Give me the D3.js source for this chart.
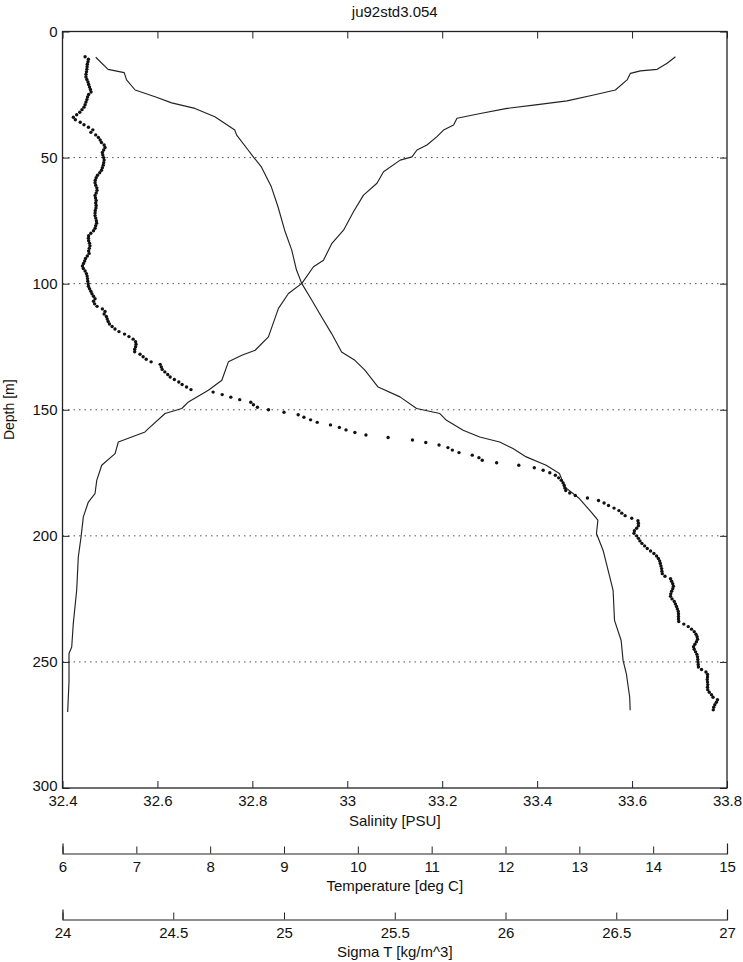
<!DOCTYPE html>
<html>
<head>
<meta charset="utf-8">
<script src="https://cdn.jsdelivr.net/npm/d3@7"></script>
<style>
  body { margin: 0; background: #fff; }
  svg { display: block; font-family: "Liberation Sans", Arial, Helvetica, sans-serif; }
</style>
</head>
<body>
<svg id="chart" width="743" height="962"></svg>
<script>
// CTD cast ju92std3.054 — salinity, temperature and sigma-T against depth

const chartTitle = "ju92std3.054";

// axis ticks
const depthTicks = [0, 50, 100, 150, 200, 250, 300];
const salinityTicks = [32.4, 32.6, 32.8, 33, 33.2, 33.4, 33.6, 33.8];
const temperatureTicks = [6, 7, 8, 9, 10, 11, 12, 13, 14, 15];
const sigmaTicks = [24, 24.5, 25, 25.5, 26, 26.5, 27];

// salinity profile [PSU]
const salinityDepth = [10.2, 15, 16.3, 19.2, 23.2, 25.9, 28.3, 30.5, 33.8, 39.1, 41.1, 47, 49.7, 53.7, 61.6, 69.5, 78.8, 86.7, 94.6, 99.9,
  106.5, 113.2, 119.8, 127.1, 130.4, 134.3, 141, 144.9, 149.5, 151.5, 154.2, 158.1, 160.8, 162.8, 165.4, 168.7, 172, 175.3, 180.6,
  185.2, 190.6, 193.8, 199.1, 205.8, 216.3, 221.6, 233.5, 241.5, 249.4, 254.7, 264, 269.2];
const salinity = [32.470, 32.496, 32.530, 32.535, 32.553, 32.595, 32.630, 32.679, 32.721, 32.763, 32.767, 32.791, 32.802, 32.819, 32.840,
  32.854, 32.868, 32.883, 32.893, 32.904, 32.925, 32.946, 32.967, 32.988, 33.016, 33.037, 33.065, 33.111, 33.146, 33.195, 33.209,
  33.244, 33.279, 33.321, 33.349, 33.377, 33.419, 33.447, 33.458, 33.489, 33.514, 33.528, 33.525, 33.539, 33.553, 33.560, 33.563,
  33.577, 33.581, 33.588, 33.595, 33.596];

// temperature profile [deg C]
const temperatureDepth = [10, 12.6, 15, 15.6, 16.6, 19.2, 23.2, 25.2, 27.5, 29.2, 30.5, 32.5, 34.4, 37.1, 39.1, 41.7, 45, 47, 49.7, 51,
  55.6, 60.2, 64.9, 71.5, 78.8, 84, 90.7, 93.3, 99.9, 103.9, 109.8, 121.1, 126.4, 128.4, 131, 138.3, 142.3, 146.9, 149.5, 151.5,
  157.5, 158.8, 162.8, 167.4, 172, 178, 183.3, 186.6, 192.5, 200.5, 208.4, 221.6, 234.8, 244.1, 246.7, 258, 269.9];
const temperature = [14.302, 14.189, 14.054, 13.827, 13.692, 13.647, 13.488, 13.194, 12.834, 12.381, 12.021, 11.659, 11.343, 11.297,
  11.161, 11.072, 10.936, 10.801, 10.733, 10.574, 10.348, 10.259, 10.077, 9.941, 9.806, 9.649, 9.535, 9.399, 9.242, 9.060, 8.925,
  8.789, 8.609, 8.429, 8.247, 8.158, 7.976, 7.705, 7.616, 7.389, 7.163, 7.118, 6.756, 6.712, 6.531, 6.464, 6.440, 6.350, 6.282,
  6.251, 6.214, 6.192, 6.146, 6.125, 6.088, 6.088, 6.070];

// sigma-T [kg/m^3], one sample per metre starting at 10 m
const sigmaStartDepth = 10;
const sigmaT = [
  24.102, 24.117, 24.115, 24.112, 24.111, 24.110, 24.108, 24.106, 24.106, 24.110,
  24.115, 24.118, 24.122, 24.126, 24.129, 24.118, 24.113, 24.110, 24.106, 24.102,
  24.097, 24.088, 24.078, 24.064, 24.049, 24.058, 24.080, 24.097, 24.117, 24.137,
  24.128, 24.150, 24.162, 24.170, 24.176, 24.188, 24.192, 24.186, 24.180, 24.182,
  24.186, 24.188, 24.186, 24.184, 24.180, 24.176, 24.168, 24.158, 24.152, 24.148,
  24.147, 24.150, 24.155, 24.156, 24.152, 24.147, 24.149, 24.152, 24.150, 24.152,
  24.151, 24.148, 24.147, 24.147, 24.150, 24.153, 24.154, 24.150, 24.147, 24.140,
  24.128, 24.118, 24.117, 24.118, 24.122, 24.124, 24.121, 24.118, 24.120, 24.112,
  24.104, 24.100, 24.095, 24.090, 24.094, 24.102, 24.108, 24.111, 24.113, 24.114,
  24.116, 24.117, 24.122, 24.128, 24.133, 24.140, 24.147, 24.140, 24.145, 24.156,
  24.180, 24.192, 24.188, 24.198, 24.202, 24.206, 24.212, 24.224, 24.237, 24.255,
  24.280, 24.300, 24.319, 24.330, 24.332, 24.330, 24.326, 24.326, 24.350, 24.364,
  24.378, 24.400, 24.441, 24.446, 24.450, 24.462, 24.475, 24.486, 24.505, 24.525,
  24.540, 24.560, 24.580, 24.680, 24.721, 24.760, 24.800, 24.850, 24.862, 24.880,
  24.930, 25.000, 25.064, 25.090, 25.120, 25.150, 25.210, 25.250, 25.280, 25.320,
  25.370, 25.470, 25.580, 25.640, 25.700, 25.740, 25.760, 25.790, 25.850, 25.880,
  25.895, 25.960, 26.060, 26.130, 26.170, 26.200, 26.225, 26.240, 26.252, 26.260,
  26.265, 26.268, 26.272, 26.290, 26.315, 26.370, 26.420, 26.445, 26.465, 26.490,
  26.512, 26.525, 26.540, 26.570, 26.598, 26.600, 26.600, 26.592, 26.582, 26.580,
  26.592, 26.600, 26.607, 26.616, 26.628, 26.640, 26.655, 26.670, 26.682, 26.690,
  26.696, 26.699, 26.702, 26.705, 26.706, 26.708, 26.720, 26.745, 26.750, 26.755,
  26.758, 26.755, 26.750, 26.746, 26.745, 26.752, 26.762, 26.767, 26.772, 26.776,
  26.780, 26.781, 26.781, 26.781, 26.782, 26.805, 26.825, 26.840, 26.852, 26.860,
  26.865, 26.867, 26.862, 26.855, 26.849, 26.852, 26.858, 26.864, 26.867, 26.868,
  26.869, 26.870, 26.871, 26.885, 26.905, 26.912, 26.912, 26.911, 26.912, 26.913,
  26.912, 26.913, 26.920, 26.930, 26.937, 26.957, 26.952, 26.945, 26.940, 26.938
];

// ---- layout ----
const plot = { left: 62.5, right: 727, top: 31.5, bottom: 788 };
const tempAxisY = 853.5;
const sigmaAxisY = 919.5;
const ink = "#222";
const tickFont = 15;

const svg = d3.select("#chart");

const y = d3.scaleLinear().domain([0, 300]).range([plot.top, plot.bottom]);
const xSal = d3.scaleLinear().domain([32.4, 33.8]).range([plot.left, plot.right]);
const xTemp = d3.scaleLinear().domain([6, 15]).range([plot.left, plot.right]);
const xSig = d3.scaleLinear().domain([24, 27]).range([plot.left, plot.right]);

// dotted depth grid
svg.append("g")
  .selectAll("line")
  .data(depthTicks.filter(d => d > 0 && d < 300))
  .join("line")
  .attr("x1", plot.left).attr("x2", plot.right)
  .attr("y1", d => y(d)).attr("y2", d => y(d))
  .attr("stroke", "#555").attr("stroke-width", 1)
  .attr("stroke-dasharray", "1.5,4");

function styleAxis(g) {
  g.selectAll(".tick line").attr("stroke", ink).attr("stroke-width", 1);
  g.selectAll(".domain").attr("stroke", ink).attr("stroke-width", 1.2);
  g.selectAll("text").attr("fill", "#111").attr("font-size", tickFont)
    .attr("font-family", "'Liberation Sans', Arial, sans-serif");
}

// depth axis (left) with inward ticks
svg.append("g")
  .attr("transform", `translate(${plot.left},0)`)
  .call(d3.axisLeft(y).tickValues(depthTicks).tickFormat(d3.format("d"))
    .tickSizeInner(-7).tickSizeOuter(0).tickPadding(5))
  .call(styleAxis)
  .call(g => g.select(".domain").remove())
  // lift the deepest label a touch so it clears the first salinity label
  .call(g => g.selectAll(".tick text").filter(d => d === 300).attr("y", -2.5));

// right edge ticks
svg.append("g")
  .attr("transform", `translate(${plot.right},0)`)
  .call(d3.axisRight(y).tickValues(depthTicks).tickFormat("")
    .tickSizeInner(-7).tickSizeOuter(0))
  .call(styleAxis)
  .call(g => g.select(".domain").remove());

// salinity axis (bottom)
svg.append("g")
  .attr("transform", `translate(0,${plot.bottom})`)
  .call(d3.axisBottom(xSal).tickValues(salinityTicks).tickFormat(d => String(d))
    .tickSizeInner(-7).tickSizeOuter(0).tickPadding(7))
  .call(styleAxis)
  .call(g => g.select(".domain").remove());

// top edge ticks
svg.append("g")
  .attr("transform", `translate(0,${plot.top})`)
  .call(d3.axisTop(xSal).tickValues(salinityTicks).tickFormat("")
    .tickSizeInner(-7).tickSizeOuter(0))
  .call(styleAxis)
  .call(g => g.select(".domain").remove());

// plot frame
svg.append("rect")
  .attr("x", plot.left).attr("y", plot.top)
  .attr("width", plot.right - plot.left).attr("height", plot.bottom - plot.top)
  .attr("fill", "none").attr("stroke", ink).attr("stroke-width", 1.3);

// temperature axis
svg.append("g")
  .attr("transform", `translate(0,${tempAxisY})`)
  .call(d3.axisBottom(xTemp).tickValues(temperatureTicks).tickFormat(d => String(d))
    .tickSizeInner(-7).tickSizeOuter(-10).tickPadding(8))
  .call(styleAxis);

// sigma-T axis
svg.append("g")
  .attr("transform", `translate(0,${sigmaAxisY})`)
  .call(d3.axisBottom(xSig).tickValues(sigmaTicks).tickFormat(d => String(d))
    .tickSizeInner(-7).tickSizeOuter(-10).tickPadding(8))
  .call(styleAxis);

// profiles
const salLine = d3.line().x(d => xSal(d.v)).y(d => y(d.z));
const tempLine = d3.line().x(d => xTemp(d.v)).y(d => y(d.z));

const salData = salinity.map((v, i) => ({ v, z: salinityDepth[i] }));
const tempData = temperature.map((v, i) => ({ v, z: temperatureDepth[i] }));
const sigmaData = sigmaT.map((v, i) => ({ v, z: sigmaStartDepth + i }));

svg.append("path").datum(salData)
  .attr("d", salLine).attr("fill", "none")
  .attr("stroke", ink).attr("stroke-width", 1.15).attr("stroke-linejoin", "round");

svg.append("path").datum(tempData)
  .attr("d", tempLine).attr("fill", "none")
  .attr("stroke", ink).attr("stroke-width", 1.15).attr("stroke-linejoin", "round");

svg.append("g")
  .selectAll("circle")
  .data(sigmaData)
  .join("circle")
  .attr("cx", d => xSig(d.v)).attr("cy", d => y(d.z))
  .attr("r", 1.7).attr("fill", "#111");

// titles and axis labels
const label = (x, yy, text, size) => svg.append("text")
  .attr("x", x).attr("y", yy).attr("text-anchor", "middle")
  .attr("font-size", size).attr("fill", "#111").text(text);

const midX = (plot.left + plot.right) / 2;
label(midX, 17, chartTitle, 15);
label(midX, 826, "Salinity [PSU]", 15);
label(midX, 891, "Temperature [deg C]", 15);
label(midX, 957, "Sigma T [kg/m^3]", 15);

svg.append("text")
  .attr("transform", `translate(14,${(plot.top + plot.bottom) / 2}) rotate(-90)`)
  .attr("text-anchor", "middle").attr("font-size", 14).attr("fill", "#111")
  .text("Depth [m]");
</script>
</body>
</html>
